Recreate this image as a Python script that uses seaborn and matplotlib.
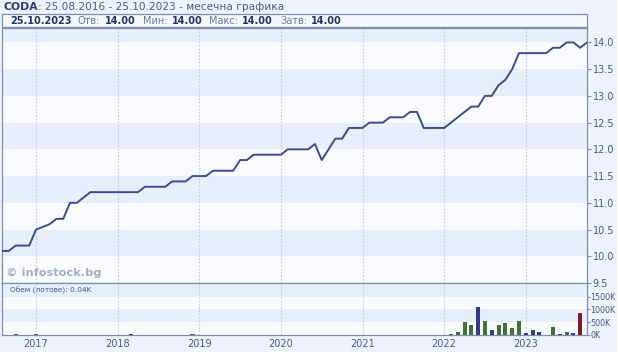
import numpy as np
import pandas as pd
import seaborn as sns
import matplotlib.pyplot as plt

sns.set_style('white')
plt.rcParams['font.family'] = ['DejaVu Sans']

# monthly closes, Aug 2016 .. Oct 2023 (month index 0..86)
prices = [10.1, 10.1, 10.2, 10.2, 10.2, 10.5, 10.55, 10.6, 10.7, 10.7,
          11.0, 11.0, 11.1, 11.2, 11.2, 11.2, 11.2, 11.2, 11.2, 11.2,
          11.2, 11.3, 11.3, 11.3, 11.3, 11.4, 11.4, 11.4, 11.5, 11.5,
          11.5, 11.6, 11.6, 11.6, 11.6, 11.8, 11.8, 11.9, 11.9, 11.9,
          11.9, 11.9, 12.0, 12.0, 12.0, 12.0, 12.1, 11.8, 12.0, 12.2,
          12.2, 12.4, 12.4, 12.4, 12.5, 12.5, 12.5, 12.6, 12.6, 12.6,
          12.7, 12.7, 12.4, 12.4, 12.4, 12.4, 12.5, 12.6, 12.7, 12.8,
          12.8, 13.0, 13.0, 13.2, 13.3, 13.5, 13.8, 13.8, 13.8, 13.8,
          13.8, 13.9, 13.9, 14.0, 14.0, 13.9, 14.0]
months = list(range(len(prices)))

# volume in thousands of lots, only months with trades
vol_months = [2, 5, 19, 28, 66, 67, 68, 69, 70, 71, 72, 73, 74, 75, 76,
              77, 78, 79, 81, 82, 83, 84, 85]
vol_values = [40, 40, 40, 40, 30, 100, 500, 380, 1110, 560, 180, 380, 460,
              290, 560, 60, 180, 130, 310, 30, 100, 60, 840]
vol_dirs = ['up', 'up', 'flat', 'up', 'up', 'up', 'up', 'up', 'flat', 'up',
            'flat', 'up', 'up', 'up', 'up', 'flat', 'flat', 'flat', 'up',
            'flat', 'up', 'flat', 'down']

year_months = [5, 17, 29, 41, 53, 65, 77]
year_labels = ['2017', '2018', '2019', '2020', '2021', '2022', '2023']

W, H = 617, 352
bg = '#EEF2FC'
band = '#E8EEFC'
light = '#FAFBFF'
txt = '#4A5A8A'
edge = '#7F8CB0'
line_col = '#3D4C8C'
palette = {'up': '#3B7A2E', 'flat': '#24358F', 'down': '#8A1218'}

fig = plt.figure(figsize=(W / 100, H / 100), dpi=100, facecolor=bg)


def box(l, t, r, b):
    return [l / W, 1 - b / H, (r - l) / W, (b - t) / H]


ax_p = fig.add_axes(box(2, 28, 587, 283))
ax_v = fig.add_axes(box(2, 283, 587, 335), sharex=ax_p)

# price panel
ax_p.set_facecolor(light)
for lo in [10.0, 11.0, 12.0, 13.0, 14.0]:
    ax_p.axhspan(lo, lo + 0.5, color=band, lw=0, zorder=0)
df = pd.DataFrame({'m': months, 'close': prices})
sns.lineplot(data=df, x='m', y='close', ax=ax_p, color=line_col, lw=1.4, zorder=3)
ax_p.set_ylim(9.5, 14.27)
ax_p.set_yticks(np.arange(9.5, 14.01, 0.5))
ax_p.set_yticklabels([f'{v:.1f}' for v in np.arange(9.5, 14.01, 0.5)])

# volume panel
ax_v.set_facecolor(light)
for lo in [500, 1500]:
    ax_v.axhspan(lo, lo + 500, color=band, lw=0, zorder=0)
ax_v.axhspan(2000, 2100, color=band, lw=0, zorder=0)
dv = pd.DataFrame({'m': vol_months, 'vol': vol_values, 'dir': vol_dirs})
sns.barplot(data=dv, x='m', y='vol', hue='dir', palette=palette, native_scale=True,
            dodge=False, width=0.6, errorbar=None, legend=False, linewidth=0,
            ax=ax_v, zorder=3)
ax_v.set_ylim(0, 2030)
ax_v.set_yticks([0, 500, 1000, 1500])
ax_v.set_yticklabels(['0K', '500K', '1000K', '1500K'])

for ax in (ax_p, ax_v):
    ax.set_xlim(0, 86)
    ax.set_xlabel('')
    ax.set_ylabel('')
    ax.yaxis.tick_right()
    ax.tick_params(axis='y', colors=edge, labelcolor=txt, labelsize=7,
                   length=3, width=0.8, pad=1, direction='out')
    for x in year_months:
        ax.axvline(x, color='#C6CAE6', lw=0.8, ls=(0, (1.5, 1.5)), zorder=1)
    for s in ax.spines.values():
        s.set_color(edge)
        s.set_linewidth(0.9)
ax_v.tick_params(axis='y', labelsize=5.8, length=2, pad=0.5)

ax_p.tick_params(axis='x', bottom=False, labelbottom=False)
ax_v.set_xticks(year_months)
ax_v.set_xticklabels(year_labels)
ax_v.tick_params(axis='x', length=0, labelsize=7, labelcolor=txt, pad=3)


# header: texts chained one after another
def first(x, y, s, **kw):
    return ax_p.annotate(s, xy=(x / W, 1 - y / H), xycoords='figure fraction',
                         va='center', ha='left', annotation_clip=False, **kw)


def after(prev, s, gap=0, **kw):
    return ax_p.annotate(s, xy=(1, 0.5), xycoords=prev, xytext=(gap, 0),
                         textcoords='offset points', va='center', ha='left',
                         annotation_clip=False, **kw)


t = first(3, 7, 'CODA', fontsize=7.8, fontweight='bold', color='#2E3D70')
after(t, ': 25.08.2016 - 25.10.2023 - месечна графика', fontsize=7.6, color=txt)

fig.patches.append(plt.Rectangle((2 / W, 1 - 27 / H), 585 / W, 13 / H,
                                 transform=fig.transFigure, facecolor='#F4F7FE',
                                 edgecolor=edge, lw=0.9, zorder=-1))
first(10, 20.5, '25.10.2023', fontsize=7, fontweight='bold', color='#24335F')
for x, s in [(78, 'Отв:'), (143, 'Мин:'), (209, 'Макс:'), (280, 'Затв:')]:
    t = first(x, 20.5, s, fontsize=7, color='#6E7CA4')
    after(t, '14.00', gap=3, fontsize=7, fontweight='bold', color='#24335F')

ax_p.text(0.006, 0.04, '© infostock.bg', transform=ax_p.transAxes, fontsize=8.2,
          fontweight='bold', color='#A3ADC8', ha='left', va='center', zorder=4)
ax_v.text(0.014, 0.92, 'Обем (лотове): 0.04K', transform=ax_v.transAxes,
          fontsize=5.3, color=txt, ha='left', va='top', zorder=4)

fig.savefig('out.png', dpi=100, facecolor=bg)
